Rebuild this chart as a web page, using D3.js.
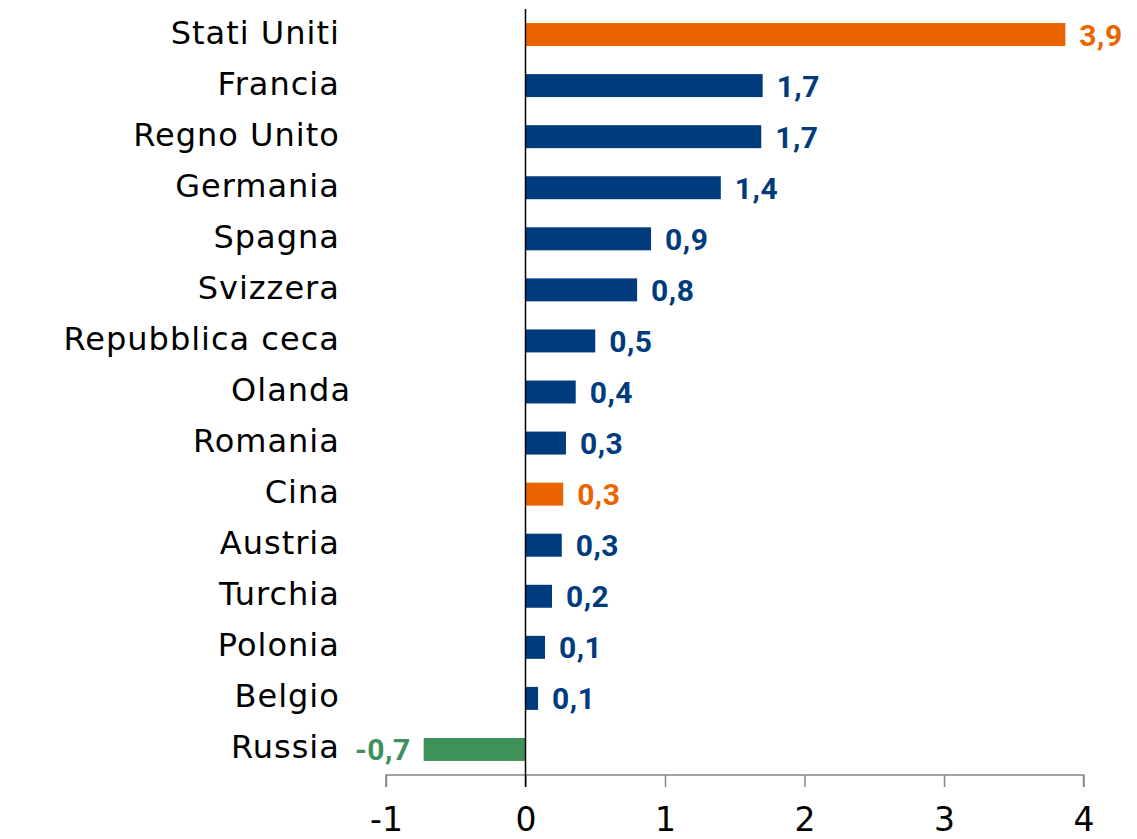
<!DOCTYPE html>
<html>
<head>
<meta charset="utf-8">
<script src="https://cdn.jsdelivr.net/npm/d3@7"></script>
<style>
  body { margin: 0; background: #fff; }
  svg { display: block; }
</style>
</head>
<body>
<svg id="chart"></svg>
<script>
// countries, top to bottom (trailing space as in the source labels)
var countries = ["Stati Uniti ", "Francia ", "Regno Unito ", "Germania ", "Spagna ", "Svizzera ",
  "Repubblica ceca ", "Olanda", "Romania ", "Cina ", "Austria ", "Turchia ", "Polonia ", "Belgio ", "Russia "];
var values = [3.87, 1.70, 1.69, 1.40, 0.90, 0.80, 0.50, 0.36, 0.29, 0.27, 0.26, 0.19, 0.14, 0.09, -0.73];
var highlighted = ["Stati Uniti ", "Cina "];
var xTicks = [-1, 0, 1, 2, 3, 4];

var width = 1137, height = 839;
var orange = "#EC6400", blue = "#003C7D", green = "#3F915A";

var svg = d3.select("#chart")
    .attr("width", width)
    .attr("height", height);

var x = d3.scaleLinear().domain([-1, 4]).range([386, 1083.5]);
var y = d3.scaleBand().domain(countries).range([9, 775]).paddingInner(0.55).paddingOuter(0.275);

var it = d3.formatLocale({decimal: ",", thousands: ".", grouping: [3], currency: ["", "€"], minus: "-"});
var fmt = it.format(".1f");

function color(d, i) {
  if (highlighted.indexOf(d) >= 0) return orange;
  if (values[i] < 0) return green;
  return blue;
}

var rows = countries.map(function(c, i) { return {name: c, value: values[i], i: i}; });

// bars
svg.append("g").selectAll("rect")
    .data(rows)
  .enter().append("rect")
    .attr("x", function(d) { return x(Math.min(0, d.value)); })
    .attr("y", function(d) { return y(d.name); })
    .attr("width", function(d) { return Math.abs(x(d.value) - x(0)); })
    .attr("height", y.bandwidth())
    .attr("fill", function(d) { return color(d.name, d.i); });

// value labels
svg.append("g").selectAll("text")
    .data(rows)
  .enter().append("text")
    .attr("x", function(d) { return d.value < 0 ? x(d.value) - 13 : x(d.value) + 14; })
    .attr("y", function(d) { return y(d.name) + y.bandwidth() / 2 + 11; })
    .attr("text-anchor", function(d) { return d.value < 0 ? "end" : "start"; })
    .attr("font-family", "Roboto")
    .attr("font-weight", "bold")
    .attr("font-size", "30px")
    .attr("letter-spacing", "0.5px")
    .attr("fill", function(d) { return color(d.name, d.i); })
    .text(function(d) { return fmt(d.value); });

// category labels
svg.append("g").selectAll("text")
    .data(rows)
  .enter().append("text")
    .attr("x", 351)
    .attr("y", function(d) { return y(d.name) + y.bandwidth() / 2 + 9; })
    .attr("text-anchor", "end")
    .attr("xml:space", "preserve")
    .attr("font-family", "DejaVu Sans")
    .attr("font-size", "32px")
    .attr("letter-spacing", "1px")
    .attr("fill", "#000")
    .text(function(d) { return d.name.replace(/ $/, "\u00a0"); });

// x axis
var axis = svg.append("g")
    .attr("transform", "translate(0,775)")
    .call(d3.axisBottom(x).tickValues(xTicks).tickSize(12).tickFormat(d3.format("d")));
axis.select(".domain").attr("stroke", "#868686").attr("stroke-width", 1.5)
    .attr("d", "M" + x(-1) + ",12V0H" + x(4) + "V12");
axis.selectAll(".tick line").attr("stroke", "#868686").attr("stroke-width", 1.5);
axis.selectAll(".tick text")
    .attr("y", 56)
    .attr("dy", 0)
    .attr("font-family", "DejaVu Sans")
    .attr("font-size", "33px")
    .attr("fill", "#000")
    .text(function(d) { return d < 0 ? "-" + Math.abs(d) : d; });

// zero line
svg.append("line")
    .attr("x1", x(0)).attr("x2", x(0))
    .attr("y1", 9).attr("y2", 787)
    .attr("stroke", "#000")
    .attr("stroke-width", 1.5);
</script>
</body>
</html>
